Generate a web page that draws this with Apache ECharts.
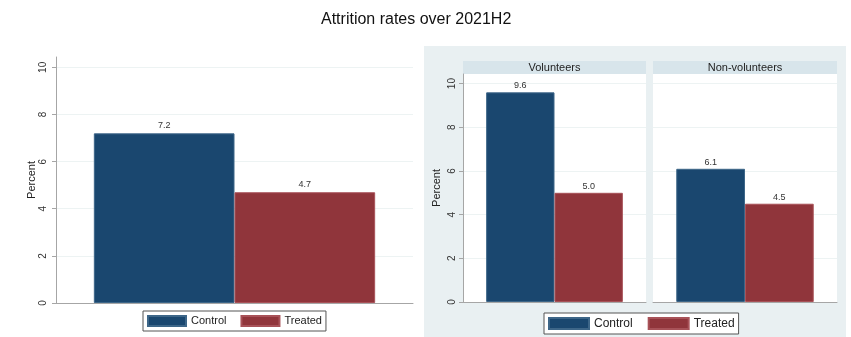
<!DOCTYPE html>
<html>
<head>
<meta charset="utf-8">
<script src="https://cdn.jsdelivr.net/npm/echarts@6/dist/echarts.min.js"></script>
<style>
  html, body { margin: 0; padding: 0; background: #fff; }
  #chart { width: 851px; height: 337px; }
</style>
</head>
<body>
<div id="chart"></div>
<script>
// Attrition rates, second half of 2021
const groups = ['Control', 'Treated'];
const overall = [7.2, 4.7];
const panels = ['Volunteers', 'Non-volunteers'];
const volunteers = [9.6, 5.0];
const nonVolunteers = [6.1, 4.5];
const yTicks = [0, 2, 4, 6, 8, 10];
const yMax = 10.44;

const NAVY = '#1a476f';
const MAROON = '#90353b';
const AXIS = '#a6a6a6';
const GRIDLINE = '#edf3f3';
const FONT = '"Liberation Sans", Arial, sans-serif';

// plot boxes (pixels)
const boxL = { left: 56, top: 57, right: 438, bottom: 34 };
const boxV = { left: 463, top: 74, width: 183, bottom: 35 };
const boxN = { left: 653, top: 74, width: 184, bottom: 35 };

const colors = [NAVY, MAROON];
const borders = ['#3d6688', '#a85258'];

function yAxisFor(gridIndex, withAxis, nameGap, labelMargin) {
  return {
    type: 'value', gridIndex: gridIndex, min: 0, max: yMax, interval: 2,
    name: withAxis ? 'Percent' : '', nameLocation: 'middle', nameGap: nameGap,
    nameTextStyle: { fontFamily: FONT, fontSize: 11, color: '#222' },
    axisLine: { show: withAxis, lineStyle: { color: AXIS, width: 1 } },
    axisTick: { show: withAxis, length: 4, customValues: yTicks, lineStyle: { color: AXIS } },
    axisLabel: {
      show: withAxis, rotate: 90, margin: labelMargin, customValues: yTicks,
      fontFamily: FONT, fontSize: 10, color: '#333'
    },
    splitLine: { show: true, lineStyle: { color: GRIDLINE, width: 1 } }
  };
}

function xAxisFor(gridIndex) {
  return {
    type: 'category', gridIndex: gridIndex, data: [''],
    axisLine: { show: true, lineStyle: { color: AXIS, width: 1 } },
    axisTick: { show: false }, axisLabel: { show: false }
  };
}

function barSeries(gridIndex, values, gap, labelDist) {
  return groups.map(function (g, i) {
    return {
      name: g, type: 'bar', xAxisIndex: gridIndex, yAxisIndex: gridIndex,
      data: [values[i]], barGap: '0%', barCategoryGap: gap,
      itemStyle: { color: colors[i], borderColor: borders[i], borderWidth: 1 },
      label: {
        show: true, position: 'top', distance: labelDist,
        formatter: function (p) { return p.value.toFixed(1); },
        fontFamily: FONT, fontSize: 9, color: '#333'
      },
      animation: false
    };
  });
}

function legendAt(left, top, w, h, fs, gap) {
  return {
    data: groups, left: left, top: top, orient: 'horizontal',
    itemWidth: w, itemHeight: h, itemGap: gap, icon: 'rect',
    backgroundColor: '#fff', borderColor: '#555', borderWidth: 1,
    padding: [4, 4, 4, 4],
    textStyle: { fontFamily: FONT, fontSize: fs, color: '#222' },
    selectedMode: false
  };
}

function header(box, text) {
  return {
    type: 'group', left: box.left, top: 61, silent: true,
    children: [
      { type: 'rect', shape: { x: 0, y: 0, width: box.width, height: 13 }, style: { fill: '#d8e5eb' } },
      { type: 'text', style: { x: box.width / 2, y: 7, text: text, textAlign: 'center', textVerticalAlign: 'middle',
        fontFamily: FONT, fontSize: 11, fill: '#222' } }
    ]
  };
}

const chart = echarts.init(document.getElementById('chart'), null, { renderer: 'canvas' });
chart.setOption({
  backgroundColor: '#fff',
  animation: false,
  title: {
    text: 'Attrition rates over 2021H2', left: 316, top: 7,
    textStyle: { fontFamily: FONT, fontSize: 16, fontWeight: 'normal', color: '#111' }
  },
  graphic: [
    { type: 'rect', left: 424, top: 46, z: -10, silent: true,
      shape: { width: 422, height: 300 }, style: { fill: '#e9f0f2' } },
    header(boxV, panels[0]),
    header(boxN, panels[1])
  ],
  legend: [
    legendAt(143, 311, 38, 10, 11, 14),
    legendAt(544, 313, 40, 11, 12, 15)
  ],
  grid: [
    { left: boxL.left, top: boxL.top, right: boxL.right, bottom: boxL.bottom },
    { left: boxV.left, top: boxV.top, width: boxV.width, bottom: boxV.bottom,
      show: true, backgroundColor: '#fff', borderWidth: 0 },
    { left: boxN.left, top: boxN.top, width: boxN.width, bottom: boxN.bottom,
      show: true, backgroundColor: '#fff', borderWidth: 0 }
  ],
  xAxis: [xAxisFor(0), xAxisFor(1), xAxisFor(2)],
  yAxis: [
    yAxisFor(0, true, 19, 8),
    yAxisFor(1, true, 21, 6),
    yAxisFor(2, false, 0, 0)
  ],
  series: [].concat(
    barSeries(0, overall, '21.2%', 3),
    barSeries(1, volunteers, '25.3%', 2),
    barSeries(2, nonVolunteers, '25.3%', 2)
  )
});
</script>
</body>
</html>
